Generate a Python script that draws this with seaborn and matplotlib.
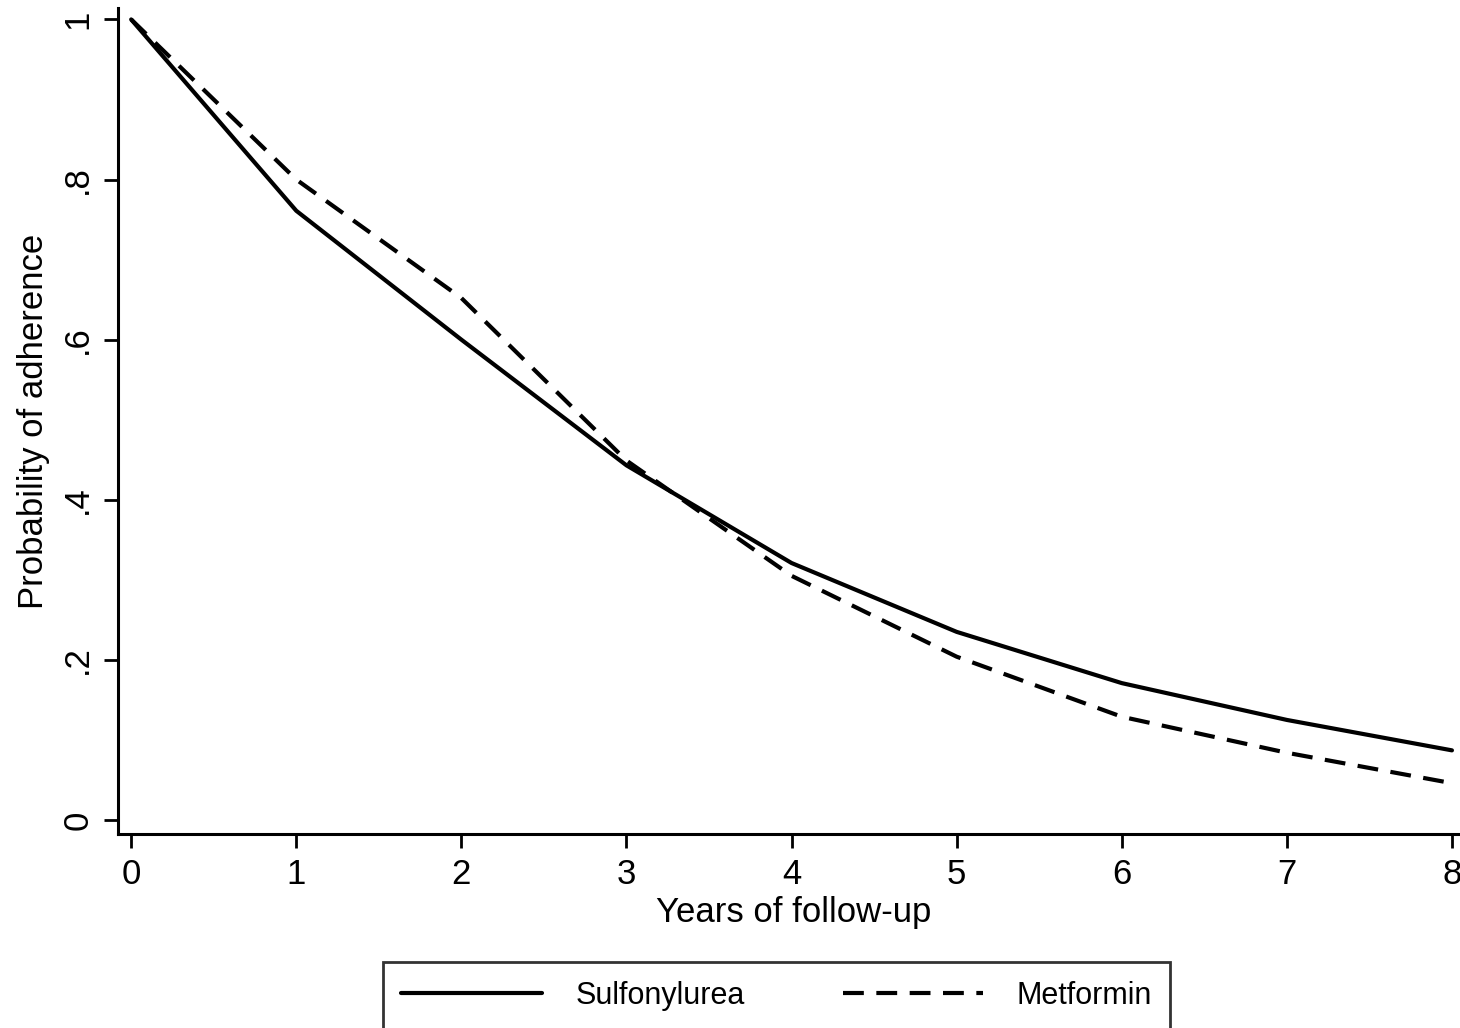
import matplotlib
matplotlib.use("Agg")
import matplotlib.pyplot as plt
import seaborn as sns
import pandas as pd

# values
years = [0, 1, 2, 3, 4, 5, 6, 7, 8]
sulfonylurea = [1.0, 0.761, 0.600, 0.443, 0.321, 0.235, 0.171, 0.125, 0.087]
metformin = [1.0, 0.800, 0.652, 0.449, 0.305, 0.204, 0.129, 0.084, 0.046]
series_names = ["Sulfonylurea", "Metformin"]
x_ticks = [0, 1, 2, 3, 4, 5, 6, 7, 8]
y_ticks = [0, 0.2, 0.4, 0.6, 0.8, 1.0]
y_tick_labels = ["0", ".2", ".4", ".6", ".8", "1"]

df = pd.DataFrame({
    "year": years * 2,
    "prob": sulfonylurea + metformin,
    "drug": [series_names[0]] * len(years) + [series_names[1]] * len(years),
})

sns.set_theme(style="ticks")
plt.rcParams['font.family'] = ['Liberation Sans', 'DejaVu Sans']
plt.rcParams['text.color'] = 'black'
plt.rcParams['axes.labelcolor'] = 'black'

fig = plt.figure(figsize=(14.6, 10.28), dpi=100)
ax = fig.add_axes([0.0808, 0.1887, 0.925, 0.8033])

sns.lineplot(data=df, x="year", y="prob", style="drug",
             dashes={"Sulfonylurea": "", "Metformin": (5, 3)},
             color="black", linewidth=3, ax=ax, legend=False)

ax.set_xlim(-0.08, 8.1)
ax.set_ylim(-0.0175, 1.014)
ax.set_xticks(x_ticks)
ax.set_xticklabels([str(t) for t in x_ticks])
ax.set_yticks(y_ticks)
ax.set_yticklabels(y_tick_labels, rotation=90, va="center")
ax.tick_params(axis="both", labelsize=25, length=10, width=2, color="black",
               labelcolor="black", pad=7)
ax.set_xlabel("Years of follow-up", fontsize=25, labelpad=4)
ax.set_ylabel("Probability of adherence", fontsize=25, labelpad=8)

for s in ["top", "right"]:
    ax.spines[s].set_visible(False)
for s in ["left", "bottom"]:
    ax.spines[s].set_color("black")
    ax.spines[s].set_linewidth(2.2)

handles = ax.get_lines()[:2]
leg = fig.legend(handles, series_names, loc="upper center",
                 bbox_to_anchor=(0.532, 0.064), ncol=2, fontsize=22,
                 frameon=True, fancybox=False, edgecolor="black",
                 handlelength=4.6, handletextpad=1.1, columnspacing=3.2,
                 borderaxespad=0, borderpad=0.6)
leg.get_frame().set_linewidth(2)

fig.savefig("out.png", dpi=100, facecolor="white")
